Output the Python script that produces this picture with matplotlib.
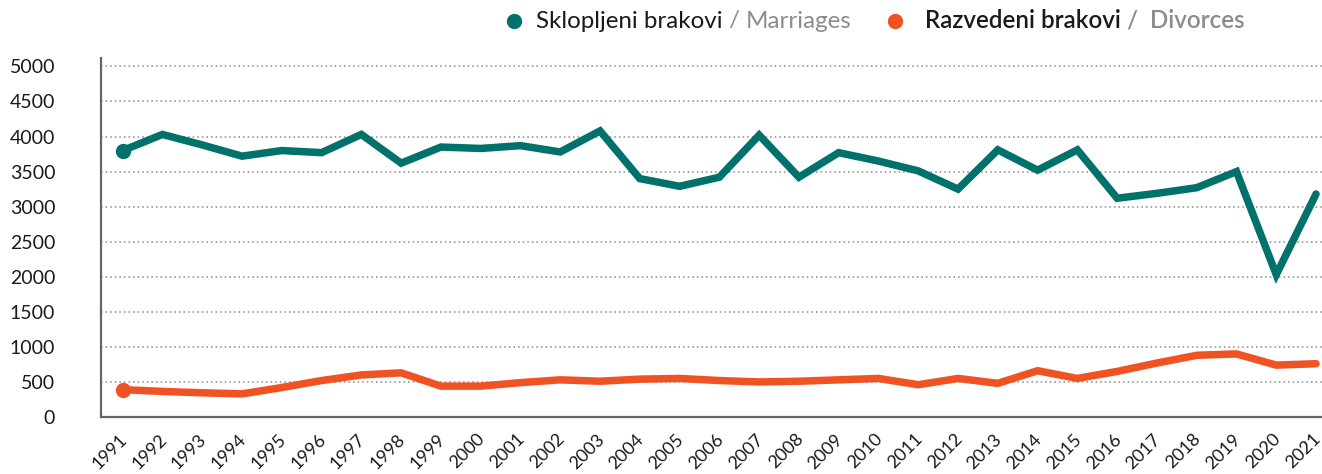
import matplotlib
matplotlib.use("Agg")
import matplotlib.pyplot as plt
import matplotlib.transforms as mtransforms

plt.rcParams['font.family'] = ['Lato', 'DejaVu Sans']

years = list(range(1991, 2022))
marriages = [3800, 4030, 3880, 3720, 3800, 3770, 4030, 3620, 3850, 3830,
             3870, 3780, 4080, 3400, 3290, 3420, 4020, 3420, 3770, 3650,
             3510, 3250, 3810, 3520, 3810, 3120, 3190, 3270, 3500, 2030,
             3180]
divorces = [390, 365, 345, 330, 420, 520, 600, 630, 440, 440,
            490, 530, 510, 540, 550, 520, 500, 510, 530, 550,
            460, 550, 480, 660, 550, 650, 770, 880, 900, 740,
            760]
yticks = [0, 500, 1000, 1500, 2000, 2500, 3000, 3500, 4000, 4500, 5000]

TEAL = '#00716B'
ORANGE = '#F05323'
GRID = '#8a8a8a'
AXIS = '#666666'

W, H = 1322, 474
fig = plt.figure(figsize=(W / 100, H / 100), dpi=100)
ax = fig.add_axes([101 / W, 1 - 417 / H, (W - 101) / W, (417 - 58) / H])

for vals, col in ((marriages, TEAL), (divorces, ORANGE)):
    ax.plot(years, vals, color=col, lw=5.4, solid_joinstyle='miter',
            solid_capstyle='round', marker='o', markevery=[0], ms=10,
            zorder=3)

ax.set_xlim(1990.455, 2021.15)
ax.set_ylim(0, 5120)
ax.set_yticks(yticks)
ax.set_yticklabels([str(v) for v in yticks])
ax.set_xticks(years)
ax.set_xticklabels([str(y) for y in years], rotation=45, ha='right',
                   va='top', rotation_mode='anchor')
ax.tick_params(axis='y', length=0, pad=33, labelsize=14, labelcolor='#1a1a1a')
ax.tick_params(axis='x', length=0, pad=10, labelsize=13, labelcolor='#1a1a1a')
shift = mtransforms.ScaledTranslation(-4 / 100, 0, fig.dpi_scale_trans)
for lab in ax.get_xticklabels():
    lab.set_transform(lab.get_transform() + shift)

for v in yticks[1:]:
    ax.axhline(v, color=GRID, lw=1.1, ls=(0, (1, 2)), zorder=1)

for s in ('top', 'right'):
    ax.spines[s].set_visible(False)
for s in ('left', 'bottom'):
    ax.spines[s].set_color(AXIS)
    ax.spines[s].set_linewidth(1.6)

# legend built from text pieces
renderer = fig.canvas.get_renderer()
ly = 1 - 21 / H
fs = 17.4

def chain(x_px, pieces):
    x = x_px
    for txt, col, wt in pieces:
        t = fig.text(x / W, ly, txt, color=col, fontsize=fs, fontweight=wt,
                     ha='left', va='center')
        bb = t.get_window_extent(renderer=renderer)
        x = bb.x1
    return x

fig.lines.append(plt.Line2D([514 / W], [ly], marker='o', ms=10, color=TEAL,
                            transform=fig.transFigure, figure=fig))
chain(536, [("Sklopljeni brakovi", '#1a1a1a', 'normal'),
            (" / ", '#8c8c8c', 'normal'),
            ("Marriages", '#8c8c8c', 'normal')])
fig.lines.append(plt.Line2D([895 / W], [ly], marker='o', ms=10, color=ORANGE,
                            transform=fig.transFigure, figure=fig))
chain(925, [("Razvedeni brakovi", '#1a1a1a', 'semibold'),
            (" /  ", '#8c8c8c', 'semibold'),
            ("Divorces", '#8c8c8c', 'semibold')])

fig.savefig('out.png', dpi=100)
